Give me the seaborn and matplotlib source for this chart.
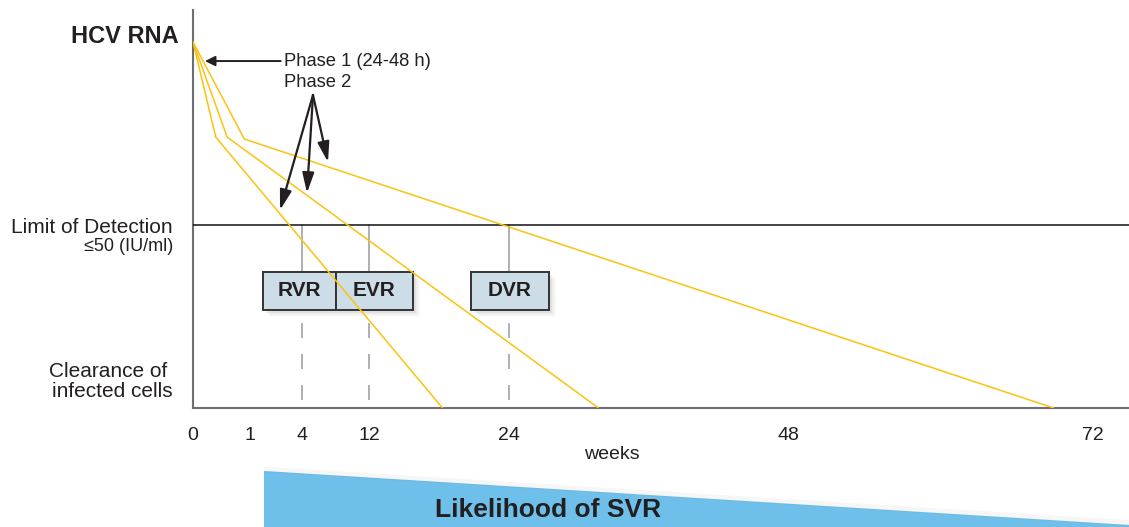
import numpy as np
import pandas as pd
import matplotlib
matplotlib.use('Agg')
import matplotlib.pyplot as plt
import matplotlib.patches as mpatches
import seaborn as sns

# week axis of the schematic (ticks are not evenly spaced in the original)
tick_weeks = [0, 1, 4, 12, 24, 48, 72]
tick_labels = ['0', '1', '4', '12', '24', '48', '72']

# viral decline curves: weeks vs relative HCV RNA level (1 = limit of detection)
fast_weeks = [0, 0.4, 18.3]
fast_rna = [2.0, 1.48, 0.0]
mid_weeks = [0, 0.6, 31.7]
mid_rna = [2.0, 1.48, 0.0]
slow_weeks = [0, 0.9, 68.9]
slow_rna = [2.0, 1.47, 0.0]

response_labels = ['RVR', 'EVR', 'DVR']
response_weeks = [4, 12, 24]
lod_level = 1.0

YELLOW = '#FAC30F'
DARK = '#231F20'
GREY = '#9A9A9A'

# piecewise mapping weeks -> horizontal position (schematic spacing)
scale_weeks = [0, 1, 4, 12, 24, 48, 72, 80]
scale_pos = [0, 57, 109, 176, 316, 595, 900, 1002]


def fwd(w):
    return np.interp(w, scale_weeks, scale_pos)


def inv(p):
    return np.interp(p, scale_pos, scale_weeks)


sns.set_theme(style='white')
plt.rcParams['font.family'] = ['Liberation Sans', 'DejaVu Sans']
plt.rcParams['lines.scale_dashes'] = False

fig = plt.figure(figsize=(11.29, 5.27), dpi=100)
ax = fig.add_axes([193 / 1129, 1 - 408 / 527, 936 / 1129, 398 / 527])
ax.set_xscale('function', functions=(fwd, inv))
ax.set_xlim(0, inv(936))
ax.set_ylim(0, 2.175)

df = pd.DataFrame({
    'week': fast_weeks + mid_weeks + slow_weeks,
    'rna': fast_rna + mid_rna + slow_rna,
    'curve': ['fast'] * 3 + ['mid'] * 3 + ['slow'] * 3,
})
sns.lineplot(data=df, x='week', y='rna', hue='curve', palette=[YELLOW] * 3,
             estimator=None, sort=False, legend=False, lw=1.1, ax=ax, zorder=6)

ax.axhline(lod_level, color='#111111', lw=1.1, zorder=4)

# response boxes (RVR / EVR / DVR) and their week markers
box_edges = [(70, 143), (143, 220), (278, 356)]
box_lo, box_hi = 0.536, 0.743
for lab, wk, (p0, p1) in zip(response_labels, response_weeks, box_edges):
    ax.plot([wk, wk], [box_hi, lod_level], color=GREY, lw=1.1, zorder=2)
    ax.plot([wk, wk], [0.044, box_lo], color=GREY, lw=1.1, dashes=[10.8, 11.5], zorder=2)
    x0, x1 = inv(p0), inv(p1)
    for off, a in [(7, 0.05), (5, 0.08), (3, 0.12)]:
        sx0, sx1 = inv(p0 + off), inv(p1 + off)
        ax.add_patch(mpatches.Rectangle((sx0, box_lo - off / 183), sx1 - sx0, box_hi - box_lo,
                                        color='grey', alpha=a, lw=0, zorder=3))
    ax.add_patch(mpatches.Rectangle((x0, box_lo), x1 - x0, box_hi - box_lo,
                                    facecolor='#CDDDE8', edgecolor='#333333', lw=1.4, zorder=4))
    ax.text(inv((p0 + p1) / 2), (box_lo + box_hi) / 2, lab, ha='center', va='center',
            fontsize=15, weight='bold', color=DARK, zorder=7)

# phase annotations
ax.annotate('Phase 1 (24-48 h)', xy=(inv(12), 1.896), xytext=(inv(91), 1.896),
            ha='left', va='center', fontsize=13.2, color=DARK,
            arrowprops=dict(arrowstyle='-|>', color=DARK, lw=1.4, mutation_scale=15,
                            shrinkA=0, shrinkB=0))
ax.text(inv(91), 1.781, 'Phase 2', ha='left', va='center', fontsize=13.2, color=DARK)
for tip in [(87, 1.082), (114, 1.175), (135, 1.344)]:
    ax.annotate('', xy=(inv(tip[0]), tip[1]), xytext=(inv(120), 1.71),
                arrowprops=dict(arrowstyle='-|>,head_length=0.55,head_width=0.16', color=DARK,
                                lw=1.6, mutation_scale=22, shrinkA=0, shrinkB=0), zorder=8)

# left hand labels
ytr = ax.get_yaxis_transform()
ax.annotate('HCV RNA', xy=(0, 2.03), xycoords=ytr, xytext=(-14, 0), textcoords='offset pixels',
            ha='right', va='center', fontsize=17, weight='bold', color=DARK)
ax.annotate('Limit of Detection', xy=(0, 0.989), xycoords=ytr, xytext=(-20, 0),
            textcoords='offset pixels', ha='right', va='center', fontsize=15, color=DARK)
ax.annotate('≤50 (IU/ml)', xy=(0, 0.88), xycoords=ytr, xytext=(-20, 0),
            textcoords='offset pixels', ha='right', va='center', fontsize=13, color=DARK)
ax.annotate('Clearance of', xy=(0, 0.197), xycoords=ytr, xytext=(-85, 0),
            textcoords='offset pixels', ha='center', va='center', fontsize=15, color=DARK)
ax.annotate('infected cells', xy=(0, 0.088), xycoords=ytr, xytext=(-81, 0),
            textcoords='offset pixels', ha='center', va='center', fontsize=15, color=DARK)

ax.set_xticks(tick_weeks)
ax.set_xticklabels(tick_labels)
ax.set_yticks([])
ax.tick_params(axis='x', length=0, pad=14, labelsize=14, colors=DARK)
ax.text(inv(419), -0.255, 'weeks', ha='center', va='center', fontsize=14, color=DARK)
ax.set_xlabel('')
ax.set_ylabel('')

for s in ['top', 'right']:
    ax.spines[s].set_visible(False)
for s in ['left', 'bottom']:
    ax.spines[s].set_color('#6D6E71')
    ax.spines[s].set_linewidth(1.5)

# likelihood of SVR wedge below the axis
xmax = inv(936)
w0 = inv(71)
ax.plot([w0, xmax], [-0.336, -0.628], color='grey', alpha=0.07, lw=4, clip_on=False,
        solid_capstyle='butt')
ax.fill([w0, xmax, xmax, w0], [-0.344, -0.639, -0.8, -0.8], color='#6EBFEA', lw=0,
        clip_on=False)
ax.text(inv(355), -0.557, 'Likelihood of SVR', ha='center', va='center', fontsize=19,
        weight='bold', color=DARK)

fig.savefig('out.png', dpi=100)
